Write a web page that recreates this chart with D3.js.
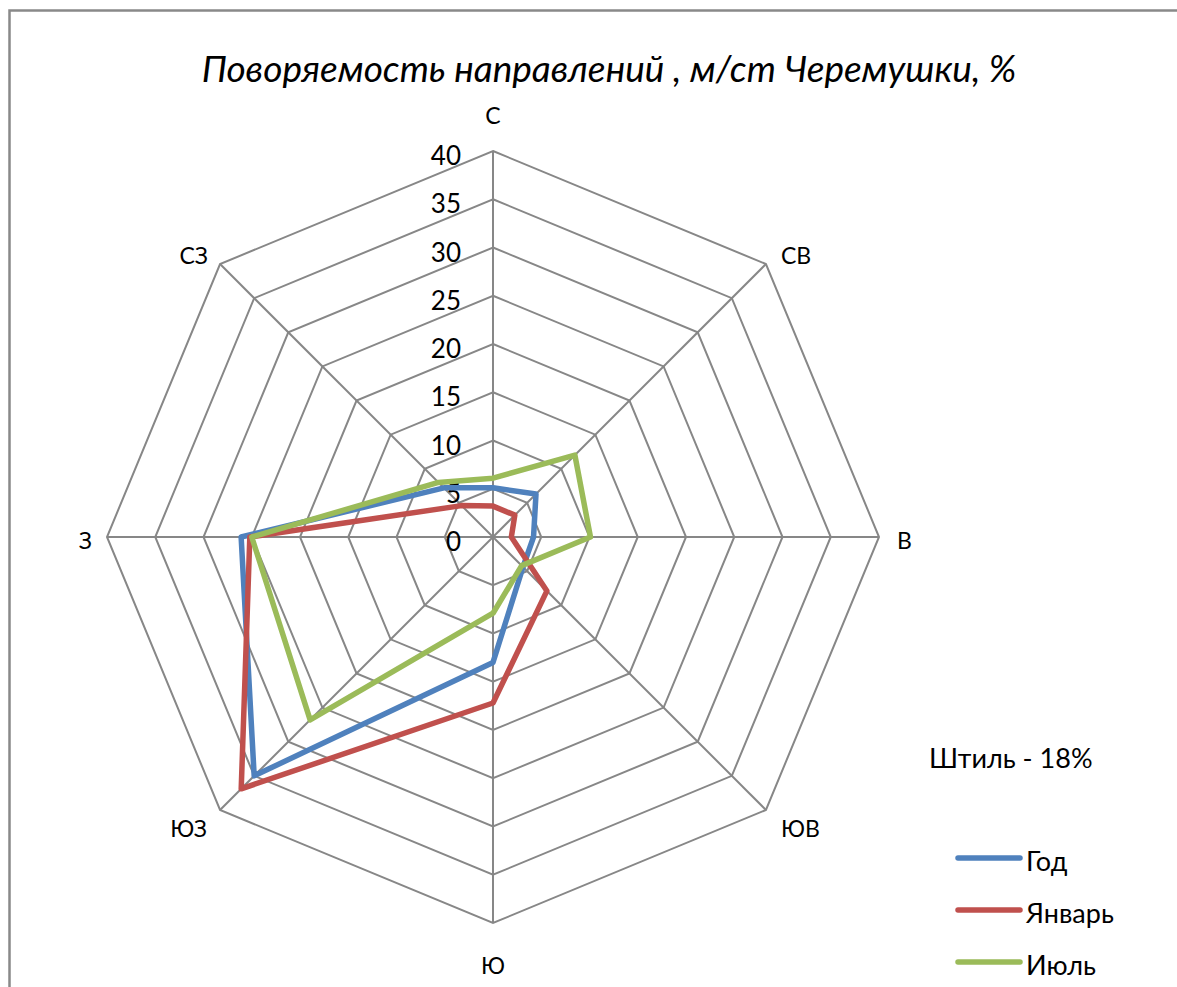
<!DOCTYPE html>
<html>
<head>
<meta charset="utf-8">
<script src="https://cdn.jsdelivr.net/npm/d3@7"></script>
<style>
  html, body { margin: 0; padding: 0; background: #fff; }
  svg text { font-family: Lato, "Open Sans", sans-serif; fill: #000; }
</style>
</head>
<body>
<svg id="chart" width="1177" height="987"></svg>
<script>
// directions, clockwise from north
const categories = ['С', 'СВ', 'В', 'ЮВ', 'Ю', 'ЮЗ', 'З', 'СЗ'];
const tickValues = [0, 5, 10, 15, 20, 25, 30, 35, 40];

// repeatability, %
const godValues = [5.1, 6.3, 4.2, 4.4, 13.0, 35.0, 26.1, 7.2];
const januaryValues = [3.2, 3.2, 1.9, 7.9, 17.2, 36.9, 25.2, 4.6];
const julyValues = [6.1, 12.0, 10.1, 4.2, 7.9, 26.8, 25.0, 8.0];

const seriesNames = ['Год', 'Январь', 'Июль'];
const seriesColors = ['#4F81BD', '#C0504D', '#9BBB59'];

const titleText = 'Поворяемость направлений , м/ст Черемушки, %';
const calmText = 'Штиль - 18%';

const width = 1177, height = 987;
const cx = 493, cy = 537, radius = 386;
const gridColor = '#878787';

const svg = d3.select('#chart');

// outer chart border (runs off right and bottom edges)
svg.append('rect')
  .attr('x', 9.5).attr('y', 10.5)
  .attr('width', width + 20).attr('height', height + 20)
  .attr('fill', '#fff')
  .attr('stroke', '#898989')
  .attr('stroke-width', 2.5);

// title
svg.append('text')
  .attr('x', 609).attr('y', 82)
  .attr('text-anchor', 'middle')
  .style('font-size', '37px')
  .style('font-style', 'italic')
  .text(titleText);

const r = d3.scaleLinear().domain([0, 40]).range([0, radius]);
const angle = d3.scalePoint()
  .domain(categories)
  .range([0, 2 * Math.PI * (categories.length - 1) / categories.length]);

const point = (cat, v) => {
  const a = angle(cat);
  return [cx + r(v) * Math.sin(a), cy - r(v) * Math.cos(a)];
};

const plot = svg.append('g');

// octagon rings
plot.selectAll('.ring')
  .data(tickValues.filter(t => t > 0))
  .enter()
  .append('polygon')
  .attr('class', 'ring')
  .attr('points', t => categories.map(c => point(c, t).join(',')).join(' '))
  .attr('fill', 'none')
  .attr('stroke', gridColor)
  .attr('stroke-width', 2);

// spokes
plot.selectAll('.spoke')
  .data(categories)
  .enter()
  .append('line')
  .attr('class', 'spoke')
  .attr('x1', cx).attr('y1', cy)
  .attr('x2', c => point(c, 40)[0])
  .attr('y2', c => point(c, 40)[1])
  .attr('stroke', gridColor)
  .attr('stroke-width', 2);

// value labels along north spoke
plot.selectAll('.tick-label')
  .data(tickValues)
  .enter()
  .append('text')
  .attr('class', 'tick-label')
  .attr('x', cx - 32)
  .attr('y', t => cy - r(t) + 4)
  .attr('text-anchor', 'end')
  .attr('dominant-baseline', 'central')
  .style('font-size', '26px')
  .text(t => t);

// direction labels
const catLabel = {
  'С': { dx: 0, dy: -36, anchor: 'middle' },
  'СВ': { dx: 15, dy: -9, anchor: 'start' },
  'В': { dx: 18, dy: 3, anchor: 'start' },
  'ЮВ': { dx: 15, dy: 18, anchor: 'start' },
  'Ю': { dx: 0, dy: 42, anchor: 'middle' },
  'ЮЗ': { dx: -13, dy: 18, anchor: 'end' },
  'З': { dx: -15, dy: 3, anchor: 'end' },
  'СЗ': { dx: -12, dy: -9, anchor: 'end' }
};

plot.selectAll('.cat-label')
  .data(categories)
  .enter()
  .append('text')
  .attr('class', 'cat-label')
  .attr('x', c => point(c, 40)[0] + catLabel[c].dx)
  .attr('y', c => point(c, 40)[1] + catLabel[c].dy)
  .attr('text-anchor', c => catLabel[c].anchor)
  .attr('dominant-baseline', 'central')
  .style('font-size', '23px')
  .text(c => c);

// series
const series = [godValues, januaryValues, julyValues].map((vals, i) => ({
  name: seriesNames[i],
  color: seriesColors[i],
  values: vals
}));

const radar = d3.lineRadial()
  .angle((d, i) => angle(categories[i]))
  .radius(d => r(d))
  .curve(d3.curveLinearClosed);

plot.selectAll('.series')
  .data(series)
  .enter()
  .append('path')
  .attr('class', 'series')
  .attr('transform', `translate(${cx},${cy})`)
  .attr('d', d => radar(d.values))
  .attr('fill', 'none')
  .attr('stroke', d => d.color)
  .attr('stroke-width', 5.5)
  .attr('stroke-linejoin', 'round');

// calm note
svg.append('text')
  .attr('x', 929).attr('y', 757)
  .attr('dominant-baseline', 'central')
  .style('font-size', '27px')
  .text(calmText);

// legend
const legend = svg.append('g')
  .attr('transform', 'translate(956, 858)');

const legendItems = legend.selectAll('.legend-item')
  .data(series)
  .enter()
  .append('g')
  .attr('class', 'legend-item')
  .attr('transform', (d, i) => `translate(0, ${i * 52})`);

legendItems.append('line')
  .attr('x1', 2).attr('x2', 64)
  .attr('y1', 0).attr('y2', 0)
  .attr('stroke', d => d.color)
  .attr('stroke-width', 5.5)
  .attr('stroke-linecap', 'round');

legendItems.append('text')
  .attr('x', 70)
  .attr('y', 2)
  .attr('dominant-baseline', 'central')
  .style('font-size', '27px')
  .text(d => d.name);
</script>
</body>
</html>
